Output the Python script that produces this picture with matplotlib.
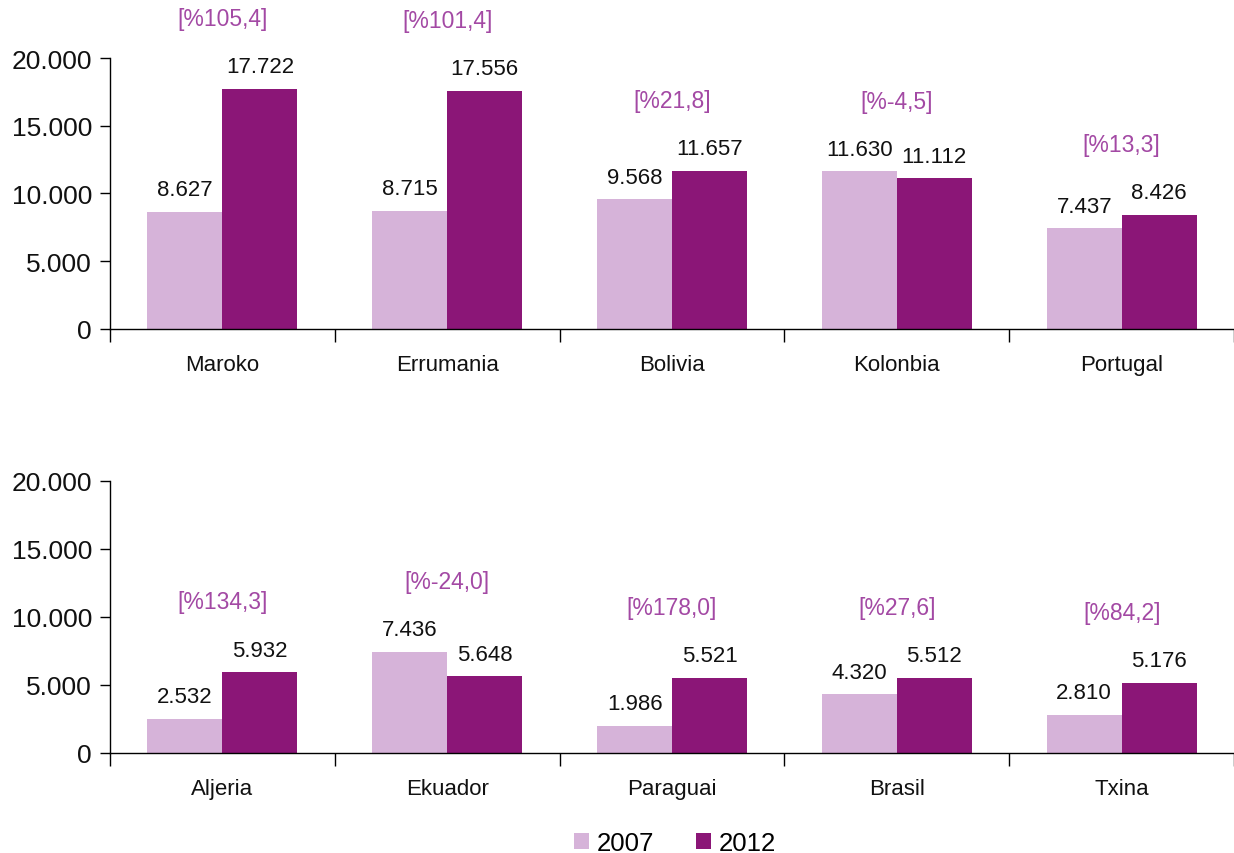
import matplotlib
matplotlib.use('Agg')
import matplotlib.pyplot as plt
import numpy as np

plt.rcParams['font.family'] = ['Liberation Sans', 'DejaVu Sans']

# data
top_cats = ['Maroko', 'Errumania', 'Bolivia', 'Kolonbia', 'Portugal']
top_2007 = [8627, 8715, 9568, 11630, 7437]
top_2012 = [17722, 17556, 11657, 11112, 8426]
top_pct = ['[%105,4]', '[%101,4]', '[%21,8]', '[%-4,5]', '[%13,3]']

bot_cats = ['Aljeria', 'Ekuador', 'Paraguai', 'Brasil', 'Txina']
bot_2007 = [2532, 7436, 1986, 4320, 2810]
bot_2012 = [5932, 5648, 5521, 5512, 5176]
bot_pct = ['[%134,3]', '[%-24,0]', '[%178,0]', '[%27,6]', '[%84,2]']

years = ['2007', '2012']
c_light = '#d6b3d9'
c_dark = '#8b1677'
c_pct = '#a349a4'


def fmt(v):
    return f'{v:,}'.replace(',', '.')


def panel(ax, cats, v07, v12, pct):
    x = np.arange(len(cats))
    w = 1 / 3
    b1 = ax.bar(x - w / 2, v07, w, color=c_light, label=years[0])
    b2 = ax.bar(x + w / 2, v12, w, color=c_dark, label=years[1])
    for bars in (b1, b2):
        for r in bars:
            ax.annotate(fmt(int(r.get_height())),
                        (r.get_x() + r.get_width() / 2, r.get_height()),
                        xytext=(0, 12), textcoords='offset points',
                        ha='center', va='baseline', fontsize=16,
                        color='#111111', annotation_clip=False)
    for i, p in enumerate(pct):
        top = max(v07[i], v12[i])
        ax.annotate(p, (x[i], top), xytext=(0, 46), textcoords='offset points',
                    ha='center', va='baseline', fontsize=16.5, color=c_pct,
                    annotation_clip=False)
    ax.set_xlim(-0.5, len(cats) - 0.5)
    ax.set_ylim(0, 20000)
    ax.set_yticks([0, 5000, 10000, 15000, 20000])
    ax.set_yticklabels([fmt(t) for t in [0, 5000, 10000, 15000, 20000]],
                       fontsize=19, color='#111111')
    ax.set_xticks(np.arange(len(cats) + 1) - 0.5)
    ax.set_xticklabels([])
    ax.set_xticks(x, minor=True)
    ax.set_xticklabels(cats, minor=True, fontsize=16, color='#111111')
    ax.tick_params(axis='x', which='major', length=9, width=1, direction='out')
    ax.tick_params(axis='x', which='minor', length=0, pad=18)
    ax.tick_params(axis='y', length=7, width=1, pad=6)
    for s in ('top', 'right'):
        ax.spines[s].set_visible(False)
    ax.spines['left'].set_linewidth(1)
    ax.spines['bottom'].set_linewidth(1)
    return b1, b2


fig = plt.figure(figsize=(12.34, 8.54), dpi=100)
ax1 = fig.add_axes([0.0891, 0.6136, 0.911, 0.3173])
ax2 = fig.add_axes([0.0891, 0.1171, 0.911, 0.3185])
panel(ax1, top_cats, top_2007, top_2012, top_pct)
b1, b2 = panel(ax2, bot_cats, bot_2007, bot_2012, bot_pct)

fig.legend([b1, b2], years, loc='center', bbox_to_anchor=(0.547, 10 / 854),
           ncol=2, frameon=False, fontsize=18.5, handlelength=0.6,
           handleheight=0.6, handletextpad=0.3, columnspacing=1.6,
           borderpad=0)

fig.savefig('out.png', dpi=100)
